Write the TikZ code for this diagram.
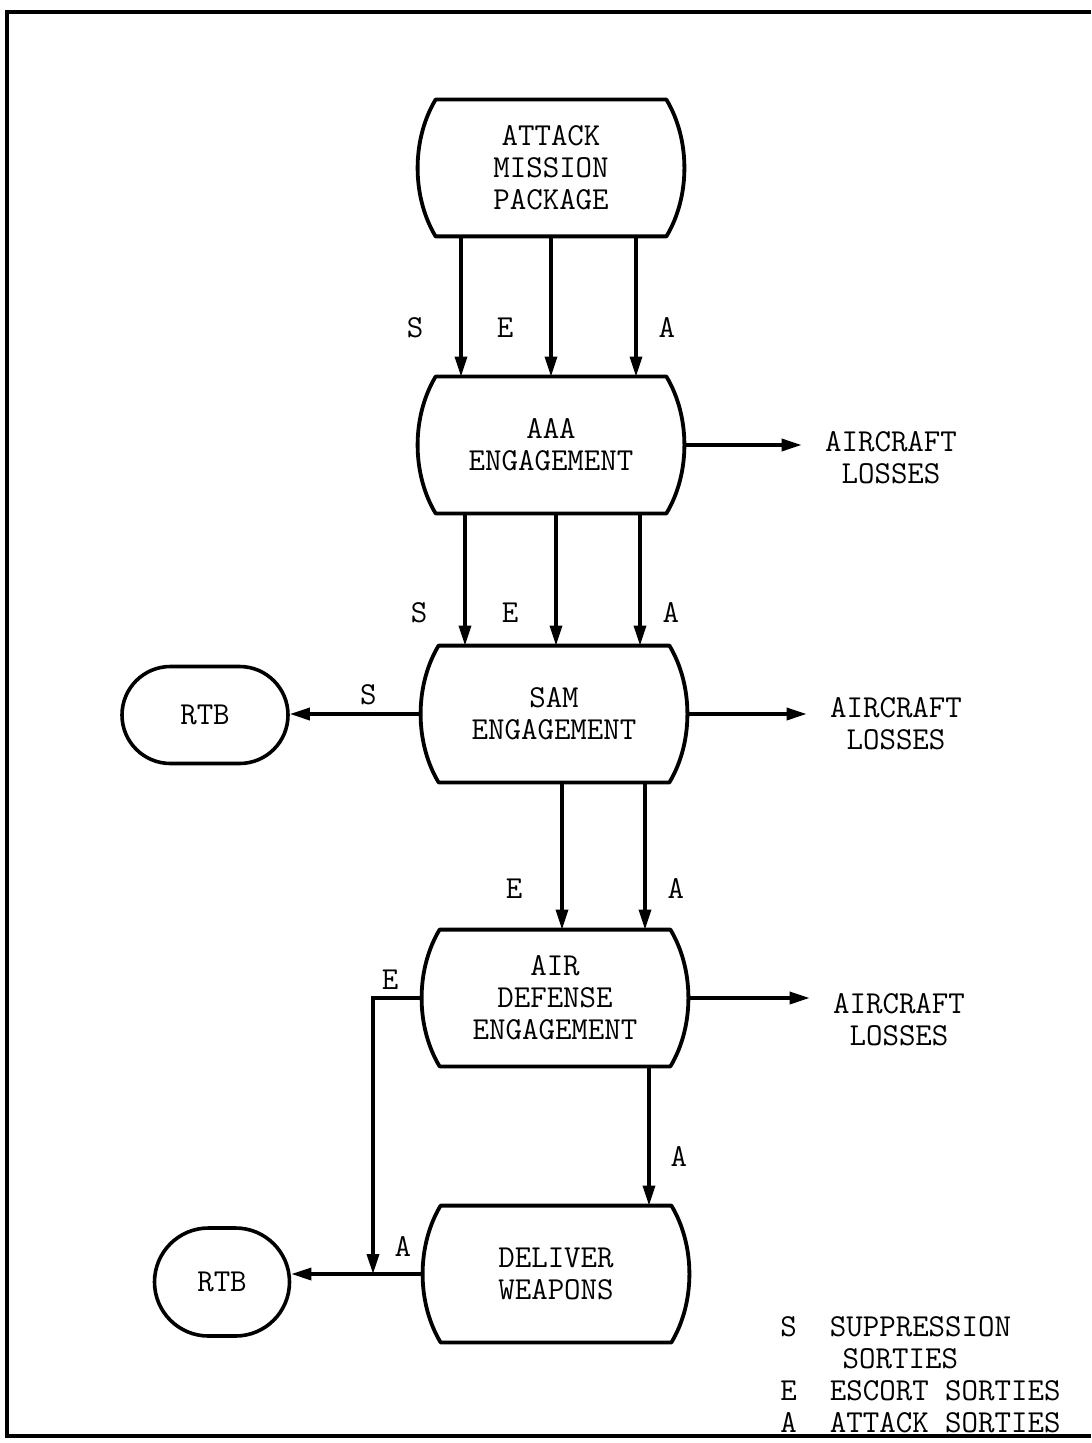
\documentclass[tikz,border=0pt]{standalone}
\usepackage{fontspec}
\usetikzlibrary{
    arrows.meta,
    positioning,
    calc,
    shapes.misc
}

\begin{document}
\begin{tikzpicture}[
    x=0.5pt, y=-0.5pt,
    >={Triangle[length=10pt,width=6pt]},
    font=\ttfamily\fontsize{16}{16}\selectfont,
    barrel/.style={
        minimum width=133pt,
        minimum height=68pt,
        inner sep=0pt,
        align=center
    },
    rtb/.style={
        draw,
        rounded rectangle,
        line width=1.8pt,
        inner sep=0pt
    },
    loss/.style={align=center, inner xsep=11.5pt, inner ysep=0pt},
    lbl/.style={inner sep=0pt},
    edge/.style={line width=1.9pt, line join=round},
    arrow/.style={->, line width=1.7pt},
    frame/.style={line width=2.4pt}
]

\def\bx{18}
\def\bc{6}
\def\by{40}

\useasboundingbox (0,0) rectangle (1091,1443);
\draw[frame] (1091,12) -- (7,12) -- (7,1436) -- (1091,1436);

% ============================================================
% ENGAGEMENT CHAIN
% ============================================================

\node[barrel] (amp) at (551,168)  {ATTACK\\MISSION\\PACKAGE};
\node[barrel] (aaa) at (551,445)  {AAA\\ENGAGEMENT};
\node[barrel] (sam) at (554,714)  {SAM\\ENGAGEMENT};
\node[barrel] (ade) at (555,998)  {AIR\\DEFENSE\\ENGAGEMENT};
\node[barrel] (dlv) at (556,1274) {DELIVER\\WEAPONS};

\foreach \n in {amp,aaa,sam,ade,dlv} {
    \draw[edge] ($(\n.north west)+(\bx,0)$) -- ($(\n.north east)+(-\bx,0)$)
        .. controls ($(\n.north east)+(\bc,\by)$) and ($(\n.south east)+(\bc,-\by)$)
        .. ($(\n.south east)+(-\bx,0)$)
        -- ($(\n.south west)+(\bx,0)$)
        .. controls ($(\n.south west)+(-\bc,-\by)$) and ($(\n.north west)+(-\bc,\by)$)
        .. cycle;
}

% ============================================================
% SIDE NODES
% ============================================================

\node[rtb, minimum width=83pt, minimum height=48.5pt] (rtb1) at (205,715) {RTB};
\node[rtb, minimum width=67.5pt, minimum height=54pt] (rtb2) at (222,1282) {RTB};

\node[loss] (los1) at (891,458)  {AIRCRAFT\\LOSSES};
\node[loss] (los2) at (896,724)  {AIRCRAFT\\LOSSES};
\node[loss] (los3) at (899,1020) {AIRCRAFT\\LOSSES};

\coordinate (jn) at (373,0 |- dlv.west);

% ============================================================
% SORTIE FLOWS
% ============================================================

\draw[arrow] (461,0 |- amp.south) -- node[lbl, pos=0.65, left=18pt] {S} (461,0 |- aaa.north);
\draw[arrow] (551,0 |- amp.south) -- node[lbl, pos=0.65, left=18pt] {E} (551,0 |- aaa.north);
\draw[arrow] (636,0 |- amp.south) -- node[lbl, pos=0.65, right=10.5pt] {A} (636,0 |- aaa.north);

\draw[arrow] (465,0 |- aaa.south) -- node[lbl, pos=0.75, left=18pt] {S} (465,0 |- sam.north);
\draw[arrow] (556,0 |- aaa.south) -- node[lbl, pos=0.75, left=18pt] {E} (556,0 |- sam.north);
\draw[arrow] (640,0 |- aaa.south) -- node[lbl, pos=0.75, right=10.5pt] {A} (640,0 |- sam.north);

\draw[arrow] (562,0 |- sam.south) -- node[lbl, pos=0.72, left=19pt] {E} (562,0 |- ade.north);
\draw[arrow] (645,0 |- sam.south) -- node[lbl, pos=0.72, right=10.5pt] {A} (645,0 |- ade.north);

\draw[arrow] (649,0 |- ade.south) -- node[lbl, pos=0.65, right=10pt] {A} (649,0 |- dlv.north);

\draw[arrow] (aaa.east) -- (aaa.east -| los1.west);
\draw[arrow] (sam.east) -- (sam.east -| los2.west);
\draw[arrow] (ade.east) -- (ade.east -| los3.west);

\draw[arrow] (sam.west) -- node[lbl, pos=0.4, above=3.5pt] {S} (sam.west -| rtb1.east);
\draw[arrow] (ade.west) -- node[lbl, pos=0.65, above=3.5pt] {E} (ade.west -| jn) -- (jn);
\draw[arrow] (dlv.west) -- node[lbl, pos=0.15, above=8pt] {A} (dlv.west -| rtb2.east);

% ============================================================
% KEY
% ============================================================

\node[align=left, inner sep=0pt, anchor=north west] (key) at (780,1316) {%
    S~~SUPPRESSION\\
    ~~~\hspace{0.4em}SORTIES\\
    E~~ESCORT~SORTIES\\
    A~~ATTACK~SORTIES};

\end{tikzpicture}
\end{document}
